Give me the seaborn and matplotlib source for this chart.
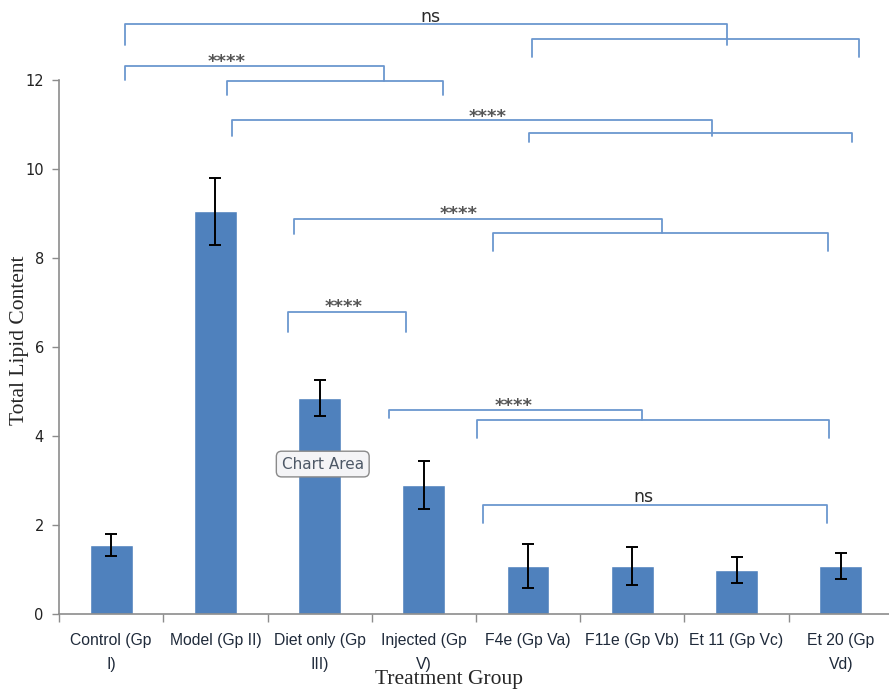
import matplotlib
matplotlib.use("Agg")
import matplotlib.pyplot as plt
import pandas as pd
import seaborn as sns

groups = ["Control (Gp\nI)", "Model (Gp II)", "Diet only (Gp\nIII)", "Injected (Gp\nV)",
          "F4e (Gp Va)", "F11e (Gp Vb)", "Et 11 (Gp Vc)", "Et 20 (Gp\nVd)"]
lipid = [1.55, 9.05, 4.85, 2.90, 1.08, 1.08, 0.99, 1.08]
lipid_err = [0.25, 0.75, 0.40, 0.53, 0.50, 0.42, 0.30, 0.30]

# significance brackets: start, end, bar level, left foot, right foot
br_x0 = [0.13, 4.04, 0.13, 1.11, 1.16, 4.01, 1.75, 3.66, 1.70, 2.67, 3.51, 3.57]
br_x1 = [5.91, 7.17, 2.62, 3.18, 5.76, 7.11, 5.28, 6.88, 2.83, 5.09, 6.89, 6.87]
br_y = [13.26, 12.92, 12.31, 11.98, 11.10, 10.81, 8.88, 8.56, 6.79, 4.58, 4.36, 2.45]
br_yl = [12.79, 12.52, 12.00, 11.66, 10.74, 10.61, 8.54, 8.16, 6.34, 4.40, 3.96, 2.04]
br_yr = [12.79, 12.52, 11.98, 11.66, 10.74, 10.61, 8.56, 8.16, 6.34, 4.36, 3.96, 2.04]

sig_text = ["ns", "****", "****", "****", "****", "****", "ns"]
sig_x = [3.06, 1.11, 3.61, 3.33, 2.23, 3.86, 5.11]
sig_y = [13.42, 12.40, 11.18, 9.00, 6.89, 4.68, 2.63]

sns.set_style("white")
plt.rcParams["font.family"] = ["DejaVu Sans"]

df = pd.DataFrame({"group": groups, "lipid": lipid, "err": lipid_err})

fig = plt.figure(figsize=(8.89, 6.91), dpi=100)
ax = fig.add_axes([0.0664, 0.1114, 0.938, 0.7728])

sns.barplot(data=df, x="group", y="lipid", color="#4f81bd", saturation=1,
            width=0.41, errorbar=None, ax=ax)
ax.errorbar(range(len(df)), df["lipid"], yerr=df["err"], fmt="none",
            ecolor="black", elinewidth=1.4, capsize=4, capthick=1.4, zorder=3)

ax.set_xlim(-0.5, 7.5)
ax.set_ylim(0, 12)
ax.set_yticks(range(0, 13, 2))
ax.tick_params(axis="y", left=True, length=5, width=1, color="#8c8c8c", pad=6,
               labelsize=10.5, labelcolor="#222222")
ax.set_xticks(range(len(groups)))
ax.set_xticklabels(groups, fontsize=11.3, linespacing=1.75, color="#1f2a3a",
                   family=["Liberation Sans"])
ax.set_xticks([i - 0.5 for i in range(len(groups) + 1)], minor=True)
ax.tick_params(axis="x", which="major", bottom=False, length=0, pad=14)
ax.tick_params(axis="x", which="minor", bottom=True, length=6, width=1, color="#8c8c8c")

for side in ["top", "right"]:
    ax.spines[side].set_visible(False)
for side in ["left", "bottom"]:
    ax.spines[side].set_color("#8c8c8c")
    ax.spines[side].set_linewidth(1.2)

ax.set_xlabel("Treatment Group", family="Liberation Serif", fontsize=15.5)
ax.set_ylabel("Total Lipid Content", family="Liberation Serif", fontsize=15.5)
ax.xaxis.set_label_coords(0.468, -0.105)
ax.yaxis.set_label_coords(-0.036, 0.513)

bcol = "#6b97cf"
for x0, x1, y, yl, yr in zip(br_x0, br_x1, br_y, br_yl, br_yr):
    ax.plot([x0, x0, x1, x1], [yl, y, y, yr], color=bcol, lw=1.3,
            clip_on=False, solid_joinstyle="round", zorder=4)

for t, x, y in zip(sig_text, sig_x, sig_y):
    if t == "ns":
        ax.text(x, y, t, ha="center", va="center", fontsize=12.5, color="#2a2a2a")
    else:
        ax.text(x, y, t, ha="center", va="center", fontsize=13, color="#555555",
                fontweight="bold")

ax.text(2.03, 3.37, "Chart Area", ha="center", va="center", fontsize=11,
        color="#4d5866", zorder=6,
        bbox=dict(boxstyle="round,pad=0.35", facecolor="#f4f4f6",
                  edgecolor="#8a8a8a", linewidth=1))

fig.savefig("out.png", dpi=100)
